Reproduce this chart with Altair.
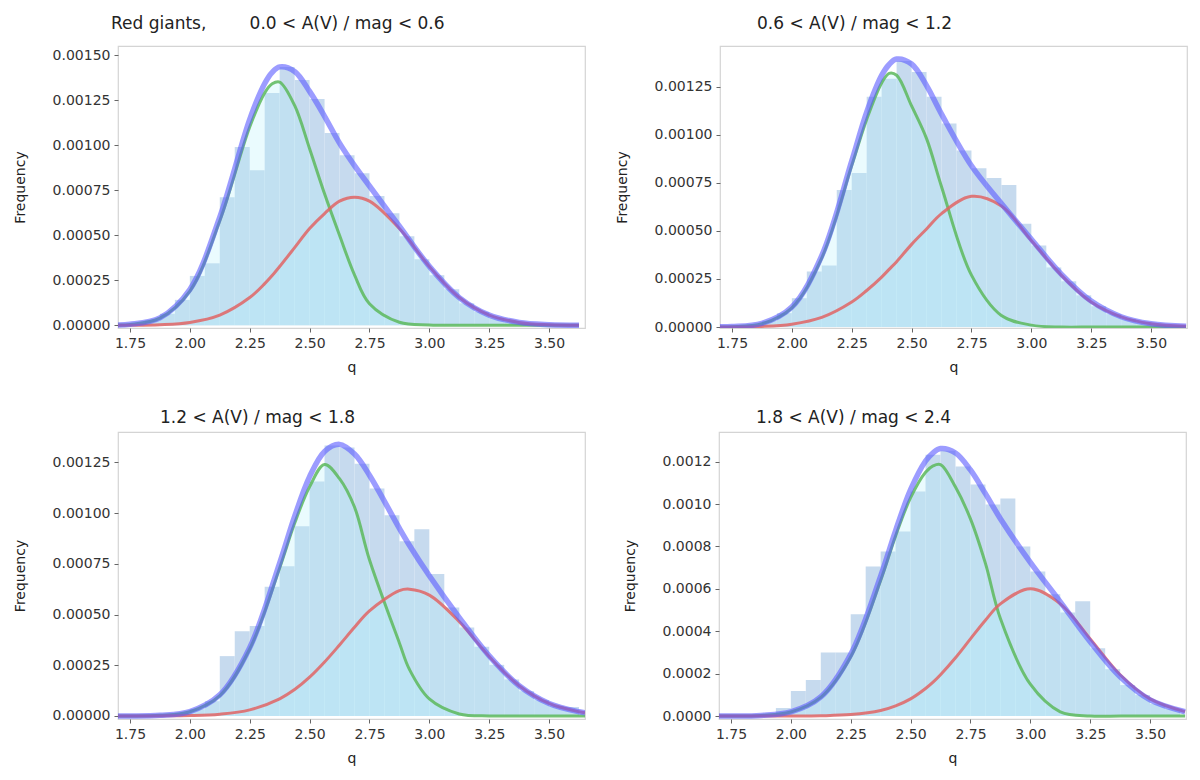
import altair as alt
import numpy as np
import pandas as pd

FONT = "DejaVu Sans"
X_TICKS = [1.75, 2.0, 2.25, 2.5, 2.75, 3.0, 3.25, 3.5]
X_DOMAIN = [1.70, 3.65]
HIST_START = 1.6875
HIST_STEP = 0.0625
NB = "\u00a0"

TITLES = [
    "Red giants," + NB * 8 + "0.0 < A(V) / mag < 0.6",
    "0.6 < A(V) / mag < 1.2",
    "1.2 < A(V) / mag < 1.8",
    "1.8 < A(V) / mag < 2.4",
]

# ---- panel 1 (top left), values in units of 1e-3
TL_x = [1.70, 1.75, 1.875, 2.0, 2.125, 2.25, 2.3125, 2.34375, 2.375, 2.4375, 2.5, 2.5625,
        2.625, 2.6875, 2.75, 2.875, 3.0, 3.125, 3.25, 3.375, 3.5, 3.625]
TL_blue = [.0021, .0054, .0414, .199, .600, 1.143, 1.342, 1.404, 1.434, 1.409, 1.298, 1.16,
           1.011, .886, .773, .550, .327, .154, .0567, .0161, .0036, .0006]
TL_green = [.002, .005, .040, .190, .580, 1.10, 1.29, 1.34, 1.35, 1.22, .98, .73,
            .50, .28, .12, .017, .002, 0, 0, 0, 0, 0]
TL_red = [.0003, .0006, .0036, .0161, .0567, .154, .231, .276, .326, .431, .537, .62,
          .689, .711, .689, .537, .326, .154, .0567, .0161, .0036, .0006]
TL_hist = [.0031, .0094, .026, .064, .141, .274, .344, .711, .989, .861, 1.289, 1.433, 1.361,
           1.256, 1.067, .944, .844, .717, .622, .494, .367, .278, .200, .122, .0744, .0422,
           .0228, .0117, .0054, .0024, .001]

# ---- panel 2 (top right)
TR_x = [1.70, 1.75, 1.875, 2.0, 2.125, 2.25, 2.3125, 2.375, 2.40625, 2.4375, 2.5, 2.5625,
        2.625, 2.75, 2.875, 3.0, 3.125, 3.25, 3.375, 3.5, 3.646]
TR_blue = [.0009, .0023, .0187, .104, .372, .863, 1.118, 1.309, 1.366, 1.394, 1.368, 1.256,
           1.108, .839, .643, .457, .2755, .135, .0537, .017, .0035]
TR_green = [.0008, .002, .017, .100, .360, .84, 1.08, 1.27, 1.32, 1.31, 1.15, .98,
            .73, .27, .06, .01, 0, 0, 0, 0, 0]
TR_red = [.0003, .0005, .003, .015, .05, .13, .19, .26, .30, .34, .43, .51,
          .59, .68, .63, .45, .27, .13, .053, .017, .0035]
TR_hist = [.0015, .0036, .0114, .031, .0723, .150, .289, .320, .713, .801, 1.198, 1.291, 1.384,
           1.327, 1.198, 1.059, .919, .826, .775, .739, .537, .424, .310, .238, .165, .108,
           .067, .041, .023, .0124, .0062]

# ---- panel 3 (bottom left)
BL_x = [1.70, 1.75, 1.875, 2.0, 2.125, 2.25, 2.375, 2.4375, 2.5, 2.5625, 2.625, 2.6875,
        2.75, 2.875, 2.9167, 3.0, 3.125, 3.25, 3.375, 3.5, 3.625, 3.65]
BL_blue = [.0001, .0002, .0032, .0217, .104, .337, .754, .984, 1.180, 1.304, 1.339, 1.291,
           1.187, .925, .842, .691, .485, .296, .149, .0615, .0207, .016]
BL_green = [.0001, .0002, .003, .021, .10, .33, .73, .95, 1.13, 1.24, 1.17, 1.03,
            .77, .36, .23, .084, .01, 0, 0, 0, 0, 0]
BL_red = [0, 0, .0004, .002, .0088, .030, .0846, .130, .191, .266, .350, .437,
          .518, .618, .625, .596, .465, .293, .149, .0615, .0207, .016]
BL_hist = [.0002, .0006, .002, .0054, .0143, .0335, .0728, .295, .418, .443, .637, .738, .935,
           1.156, 1.333, 1.324, 1.244, 1.122, .989, .861, .920, .700, .535, .436, .341, .252,
           .180, .122, .078, .048, .044]

# ---- panel 4 (bottom right)
BR_x = [1.70, 1.75, 1.875, 2.0, 2.125, 2.25, 2.375, 2.4375, 2.5, 2.5625, 2.59375, 2.625,
        2.6875, 2.75, 2.8125, 2.875, 3.0, 3.125, 3.25, 3.375, 3.5, 3.646]
BR_blue = [.0001, .0003, .003, .0195, .0901, .291, .660, .875, 1.068, 1.203, 1.242, 1.262,
           1.241, 1.161, 1.049, .931, .725, .539, .350, .185, .0762, .0202]
BR_green = [.0001, .0003, .003, .019, .088, .28, .64, .85, 1.03, 1.15, 1.18, 1.186,
            1.08, .93, .72, .46, .15, .02, 0, 0, 0, 0]
BR_red = [0, 0, 0, .0002, .0013, .0067, .026, .048, .081, .13, .16, .195,
          .275, .364, .452, .529, .60, .529, .364, .195, .081, .021]
BR_hist = [.0002, .0006, .0017, .0049, .0376, .118, .170, .300, .300, .480, .706, .776, .871,
           1.059, 1.233, 1.252, 1.177, 1.092, .998, 1.026, .800, .682, .574, .489, .541, .320,
           .221, .146, .0988, .0565, .0329]

TL_yticks = [0, .25, .5, .75, 1.0, 1.25, 1.5]
TR_yticks = [0, .25, .5, .75, 1.0, 1.25]
BL_yticks = [0, .25, .5, .75, 1.0, 1.25]
BR_yticks = [0, .2, .4, .6, .8, 1.0, 1.2]

HIST_COLOR = "#c6daee"
CYAN = "#b4f0fa"
BLUE = "#5a5aff"
GREEN = "#5cb85c"
RED = "#e06464"


def panel(title, dx, xs, blue, green, red, hist, yticks, yfmt, ydom, h, toff):
    n = len(hist)
    left = HIST_START + HIST_STEP * np.arange(n)
    hist_df = pd.DataFrame({"x0": left, "x1": left + HIST_STEP,
                            "v": np.array(hist) * 1e-3, "z": 0.0})
    cur = pd.DataFrame({"x": xs, "blue": np.array(blue) * 1e-3,
                        "green": np.array(green) * 1e-3, "red": np.array(red) * 1e-3,
                        "z": 0.0})
    xsc = alt.Scale(domain=X_DOMAIN, nice=False, zero=False)
    ysc = alt.Scale(domain=[ydom[0] * 1e-3, ydom[1] * 1e-3], nice=False, zero=False)
    xax = alt.Axis(values=X_TICKS, format=".2f", title="q", labelFlush=False,
                   titlePadding=10)
    yax = alt.Axis(values=[t * 1e-3 for t in yticks], format=yfmt, title="Frequency",
                   labelFlush=False, titlePadding=25)
    bx = alt.X("x:Q", scale=xsc, axis=xax)

    bars = alt.Chart(hist_df).mark_rect(color=HIST_COLOR, clip=True).encode(
        x=alt.X("x0:Q", scale=xsc, axis=xax), x2="x1:Q",
        y=alt.Y("v:Q", scale=ysc, axis=yax), y2="z:Q")

    def area(field):
        return alt.Chart(cur).mark_area(color=CYAN, opacity=0.28,
                                        interpolate="catmull-rom", clip=True).encode(
            x=bx, y=alt.Y(f"{field}:Q", scale=ysc, axis=yax), y2="z:Q")

    def line(field, color, w, op):
        return alt.Chart(cur).mark_line(color=color, strokeWidth=w, opacity=op,
                                        interpolate="catmull-rom", clip=True).encode(
            x=bx, y=alt.Y(f"{field}:Q", scale=ysc, axis=yax))

    return alt.layer(
        bars, area("green"), area("red"),
        line("green", GREEN, 3, 0.85), line("red", RED, 3, 0.85),
        line("blue", BLUE, 5.5, 0.6),
    ).properties(
        width=467, height=h,
        title=alt.TitleParams(title, anchor="start", frame="group", dx=dx, offset=toff,
                              fontSize=17, font=FONT, fontWeight="normal", color="#222"),
    )


tl = panel(TITLES[0], -7, TL_x, TL_blue, TL_green, TL_red, TL_hist, TL_yticks, ".5f",
           [-0.015, 1.55], 282, 13)
tr = panel(TITLES[1], 37, TR_x, TR_blue, TR_green, TR_red, TR_hist, TR_yticks, ".5f",
           [-0.005, 1.462], 282, 13)
bl = panel(TITLES[2], 42, BL_x, BL_blue, BL_green, BL_red, BL_hist, BL_yticks, ".5f",
           [-0.015, 1.40], 287, 5)
br = panel(TITLES[3], 37, BR_x, BR_blue, BR_green, BR_red, BR_hist, BR_yticks, ".4f",
           [-0.014, 1.34], 287, 5)

top = alt.hconcat(tl, tr, spacing=28)
bot = alt.hconcat(bl, br, spacing=36)
chart = alt.vconcat(top, bot, spacing=33).properties(
    padding={"left": 4, "top": 6, "right": 0, "bottom": 0}
).configure_view(stroke="#d4d4d4", strokeWidth=1.2).configure_axis(
    labelFont=FONT, labelFontSize=14, labelColor="#333", titleFont=FONT,
    titleFontSize=14, titleFontWeight="normal", titleColor="#222",
    tickColor="#666", tickSize=4, labelPadding=4, domain=False, grid=False,
)

chart.save("out.html", embed_options={"renderer": "svg", "actions": False})
